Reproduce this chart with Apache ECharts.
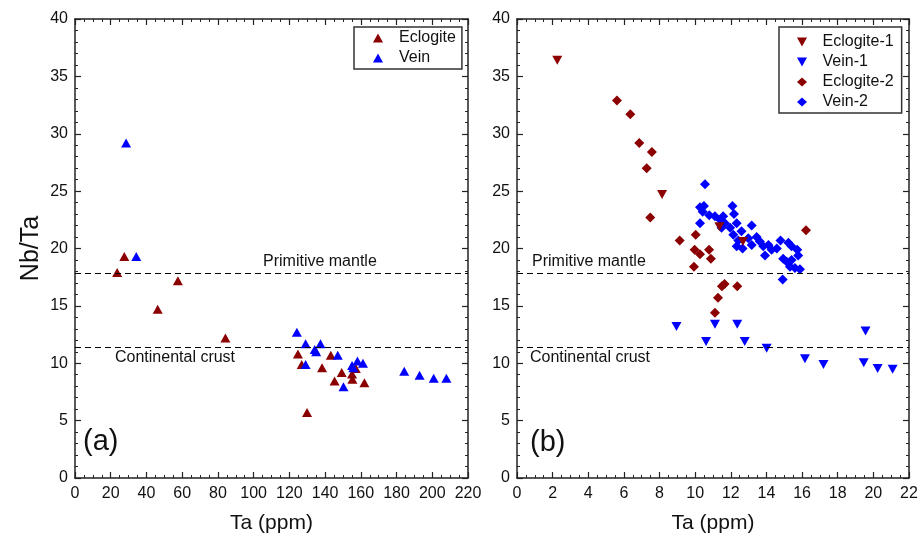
<!DOCTYPE html>
<html>
<head>
<meta charset="utf-8">
<script src="https://cdn.jsdelivr.net/npm/echarts@6/dist/echarts.min.js"></script>
<style>
html,body{margin:0;padding:0;background:#fff;}
#chart{width:922px;height:548px;}
</style>
</head>
<body>
<div id="chart"></div>
<script>
// ---- Panel (a): Ta (ppm) vs Nb/Ta ----
const eclogiteA = [
  [23.6,17.9],[27.6,19.3],[57.6,17.2],[46.3,14.7],[84.2,12.2],[124.8,10.8],[126.9,9.9],
  [129.9,5.7],[138.3,9.6],[143.2,10.7],[145.3,8.45],[149.3,9.2],[155.1,9.06],[155.3,8.6],
  [157.2,9.55],[162.0,8.3]
];
const veinA = [
  [28.6,29.2],[34.3,19.3],[124.2,12.7],[129.1,11.7],[129.1,9.9],[134.2,11.2],[135.0,11.0],
  [137.4,11.7],[147.1,10.7],[150.3,7.96],[155.1,9.8],[155.8,9.6],[158.1,10.2],[161.2,10.0],
  [184.3,9.3],[192.9,8.95],[200.8,8.7],[207.9,8.7]
];
// ---- Panel (b) ----
const eclogite1 = [[2.26,36.4],[8.14,24.7],[11.36,21.9],[12.68,20.6]];
const vein1 = [
  [8.95,13.2],[10.61,11.9],[11.11,13.4],[12.36,13.4],[12.78,11.9],[14.01,11.3],
  [16.16,10.4],[17.2,9.9],[19.56,12.8],[19.46,10.05],[20.24,9.55],[21.08,9.47]
];
const eclogite2 = [
  [5.61,32.9],[6.36,31.7],[6.86,29.2],[7.57,28.4],[7.28,27.0],[7.48,22.7],[9.13,20.7],
  [10.03,21.2],[9.97,19.9],[10.27,19.5],[10.78,19.9],[10.88,19.1],[9.93,18.4],[11.65,16.9],
  [11.5,16.7],[12.36,16.7],[11.28,15.7],[11.11,14.4],[16.22,21.6]
];
const vein2 = [
  [10.55,25.6],[10.27,23.6],[10.49,23.7],[10.42,23.2],[10.27,22.2],[10.79,22.9],[11.11,22.8],
  [11.40,22.5],[11.57,22.8],[12.09,23.7],[12.18,23.0],[11.67,22.2],[11.48,21.8],[11.96,21.8],
  [12.33,22.2],[12.60,21.5],[12.14,21.2],[12.42,20.7],[12.33,20.2],[12.66,20.0],[13.17,22.0],
  [12.98,20.9],[13.17,20.3],[13.45,21.0],[13.63,20.6],[13.82,20.2],[14.11,20.3],[13.92,19.4],
  [14.29,19.9],[14.58,20.0],[14.79,20.7],[15.23,20.5],[15.41,20.2],[15.73,19.9],[15.78,19.4],
  [14.94,19.1],[15.14,18.85],[15.41,19.0],[15.32,18.4],[15.60,18.3],[15.88,18.2],[14.91,17.3]
];
// reference lines (Nb/Ta)
const refLines = [17.8, 11.4];
const refLabels = ['Primitive mantle', 'Continental crust'];
const xTicksA = {min:0, max:220, interval:20};
const xTicksB = {min:0, max:22, interval:2};
const yTicks = {min:0, max:40, interval:5};

const FONT = 'Liberation Sans, Arial, sans-serif';
const RED = '#8b0000';
const BLUE = '#0000ff';
const INV_TRI = 'path://M0,0L10,0L5,9Z';

const chart = echarts.init(document.getElementById('chart'));

function xAx(grid, t, pos, showLabel) {
  return {
    type:'value', gridIndex:grid, position:pos, min:t.min, max:t.max, interval:t.interval,
    axisLine:{show:true, onZero:false, lineStyle:{color:'#222', width:1.5}},
    axisTick:{show:true, inside:true, length:6, lineStyle:{color:'#222', width:1.2}},
    minorTick:{show:true, splitNumber:4, length:3, lineStyle:{color:'#222', width:1}},
    splitLine:{show:false},
    axisLabel:{show:showLabel, fontSize:16, color:'#111', fontFamily:FONT, margin:8},
    name: showLabel ? 'Ta (ppm)' : '', nameLocation:'middle', nameGap:35,
    nameTextStyle:{fontSize:21, color:'#111', fontFamily:FONT}
  };
}
function yAx(grid, pos, showLabel, name) {
  return {
    type:'value', gridIndex:grid, position:pos, min:yTicks.min, max:yTicks.max, interval:yTicks.interval,
    axisLine:{show:true, onZero:false, lineStyle:{color:'#222', width:1.5}},
    axisTick:{show:true, inside:true, length:6, lineStyle:{color:'#222', width:1.2}},
    minorTick:{show:true, splitNumber:5, length:3, lineStyle:{color:'#222', width:1}},
    splitLine:{show:false},
    axisLabel:{show:showLabel, fontSize:16, color:'#111', fontFamily:FONT, margin:7},
    name: name || '', nameLocation:'middle', nameGap:31,
    nameTextStyle:{fontSize:25, color:'#111', fontFamily:FONT}
  };
}
function refMark() {
  return {
    silent:true, symbol:'none', label:{show:false},
    lineStyle:{color:'#000', type:[6,4], width:1.2},
    data: refLines.map(v => ({yAxis:v}))
  };
}
function scatter(name, data, xi, yi, symbol, size, color, mark) {
  const s = {name, type:'scatter', data, xAxisIndex:xi, yAxisIndex:yi, symbol, symbolSize:size,
    itemStyle:{color, opacity:1}, emphasis:{disabled:true}, z:3};
  if (mark) s.markLine = refMark();
  return s;
}
function legendText(pad) {
  return {
    formatter: n => '{t|' + n + '}',
    textStyle:{fontSize:16, color:'#111', fontFamily:FONT, lineHeight:20,
      rich:{t:{fontSize:16, color:'#111', fontFamily:FONT, padding:[0,0,0,pad]}}}
  };
}

const option = {
  animation:false,
  backgroundColor:'#fff',
  grid:[
    {left:75, right:454, top:19, bottom:70},
    {left:517, right:13, top:19, bottom:70}
  ],
  xAxis:[ xAx(0, xTicksA, 'bottom', true), xAx(0, xTicksA, 'top', false),
          xAx(1, xTicksB, 'bottom', true), xAx(1, xTicksB, 'top', false) ],
  yAxis:[ yAx(0, 'left', true, 'Nb/Ta'), yAx(0, 'right', false),
          yAx(1, 'left', true), yAx(1, 'right', false) ],
  legend:[
    Object.assign({
      left:354, top:27, orient:'vertical', itemGap:0, itemWidth:10, itemHeight:9,
      padding:[1,6,1,19], borderColor:'#333', borderWidth:1.5, borderRadius:0,
      data:[{name:'Eclogite', icon:'triangle'}, {name:'Vein', icon:'triangle'}],
      selectedMode:false
    }, legendText(11)),
    Object.assign({
      left:779, top:27, orient:'vertical', itemGap:0, itemWidth:10, itemHeight:9,
      padding:[5,8,1,18], borderColor:'#333', borderWidth:1.5, borderRadius:0,
      data:[{name:'Eclogite-1', icon:INV_TRI}, {name:'Vein-1', icon:INV_TRI},
            {name:'Eclogite-2', icon:'diamond'}, {name:'Vein-2', icon:'diamond'}],
      selectedMode:false
    }, legendText(10.5))
  ],
  series:[
    scatter('Eclogite', eclogiteA, 0, 0, 'triangle', [10,9], RED, true),
    scatter('Vein', veinA, 0, 0, 'triangle', [10,9], BLUE, false),
    scatter('Eclogite-2', eclogite2, 2, 2, 'diamond', [10,10], RED, true),
    scatter('Vein-2', vein2, 2, 2, 'diamond', [10,10], BLUE, false),
    scatter('Eclogite-1', eclogite1, 2, 2, INV_TRI, [10,9], RED, false),
    scatter('Vein-1', vein1, 2, 2, INV_TRI, [10,9], BLUE, false)
  ],
  graphic:[
    {type:'text', x:263, y:262, style:{text:refLabels[0], font:'16px ' + FONT, fill:'#111', verticalAlign:'middle'}},
    {type:'text', x:532, y:262, style:{text:refLabels[0], font:'16px ' + FONT, fill:'#111', verticalAlign:'middle'}},
    {type:'text', x:115, y:358, style:{text:refLabels[1], font:'16px ' + FONT, fill:'#111', verticalAlign:'middle'}},
    {type:'text', x:530, y:358, style:{text:refLabels[1], font:'16px ' + FONT, fill:'#111', verticalAlign:'middle'}},
    {type:'text', x:83, y:442, style:{text:'(a)', font:'29px ' + FONT, fill:'#111', verticalAlign:'middle'}},
    {type:'text', x:530, y:443, style:{text:'(b)', font:'29px ' + FONT, fill:'#111', verticalAlign:'middle'}}
  ]
};
chart.setOption(option);
</script>
</body>
</html>
